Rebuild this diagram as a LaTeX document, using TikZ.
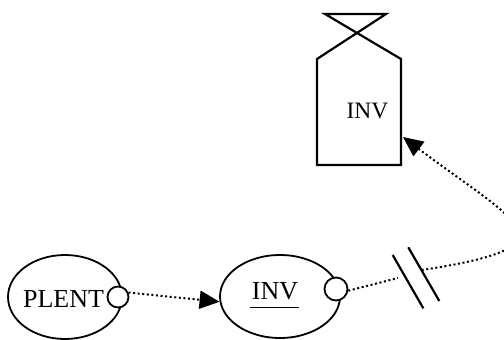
\documentclass[tikz,border=0pt]{standalone}
\usepackage{fontspec}
\setmainfont{Liberation Serif}
\usetikzlibrary{shapes.geometric,arrows.meta,calc}
\begin{document}
\begin{tikzpicture}[x=1pt,y=-1pt,
  ell/.style={ellipse,draw,line width=1.8pt,inner sep=0pt},
  port/.style={circle,draw,line width=1.8pt,fill=white,inner sep=0pt},
  dots/.style={line width=2pt,dash pattern=on 2pt off 2.6pt},
  lbl/.style={anchor=base,inner sep=0pt,font=\fontsize{26}{30}\selectfont},
  tipa/.style={-{Triangle[length=20pt,width=18pt]}},
  thick2/.style={line width=2.2pt}]
\useasboundingbox (0,0) rectangle (504,340);
\clip (0,0) rectangle (504,340);
% PLENT ellipse
\node[ell,minimum width=114pt,minimum height=84pt] (plent) at (65,297) {};
\node[lbl] (t1) at (63.5,307.7) {PLENT};
\node[port,minimum size=21pt] (c1) at (118,297) {};
% INV ellipse
\node[ell,minimum width=120pt,minimum height=83pt] (inv) at (280,296.5) {};
\node[lbl] (t2) at (275,299.3) {INV};
\draw[line width=1.4pt] ($(t2.base west)+(-2,8.4)$) -- ($(t2.base east)+(1,8.4)$);
\node[port,minimum size=23pt] (c2) at (336,289) {};
% bottle (named body, open-top outline)
\node[minimum width=84pt,minimum height=106pt,inner sep=0pt,outer sep=0pt] (bottle) at (359,112) {};
\draw[thick2,line join=miter] (bottle.north west) -- (bottle.south west) -- (bottle.south east) -- (bottle.north east) -- (325,14) -- (386,14) -- cycle;
\node[lbl,font=\fontsize{23.5}{28}\selectfont] (t3) at (367.5,118.3) {INV};
% connectors
\draw[dots,tipa] (c1.23) -- (inv.185);
\coordinate (brkA) at (398,278);
\coordinate (brkB) at (421.7,270);
\coordinate (bin) at ($(bottle.east)+(2,25)$);
\draw[dots] (c2.-8) -- (brkA);
\draw[dots,tipa] (brkB) .. controls (581,246) and (517,223) .. (bin);
% break mark
\draw[thick2] (392.7,255) -- (423.3,308.3);
\draw[thick2] (408.3,247.3) -- (439.3,301);
\end{tikzpicture}
\end{document}
